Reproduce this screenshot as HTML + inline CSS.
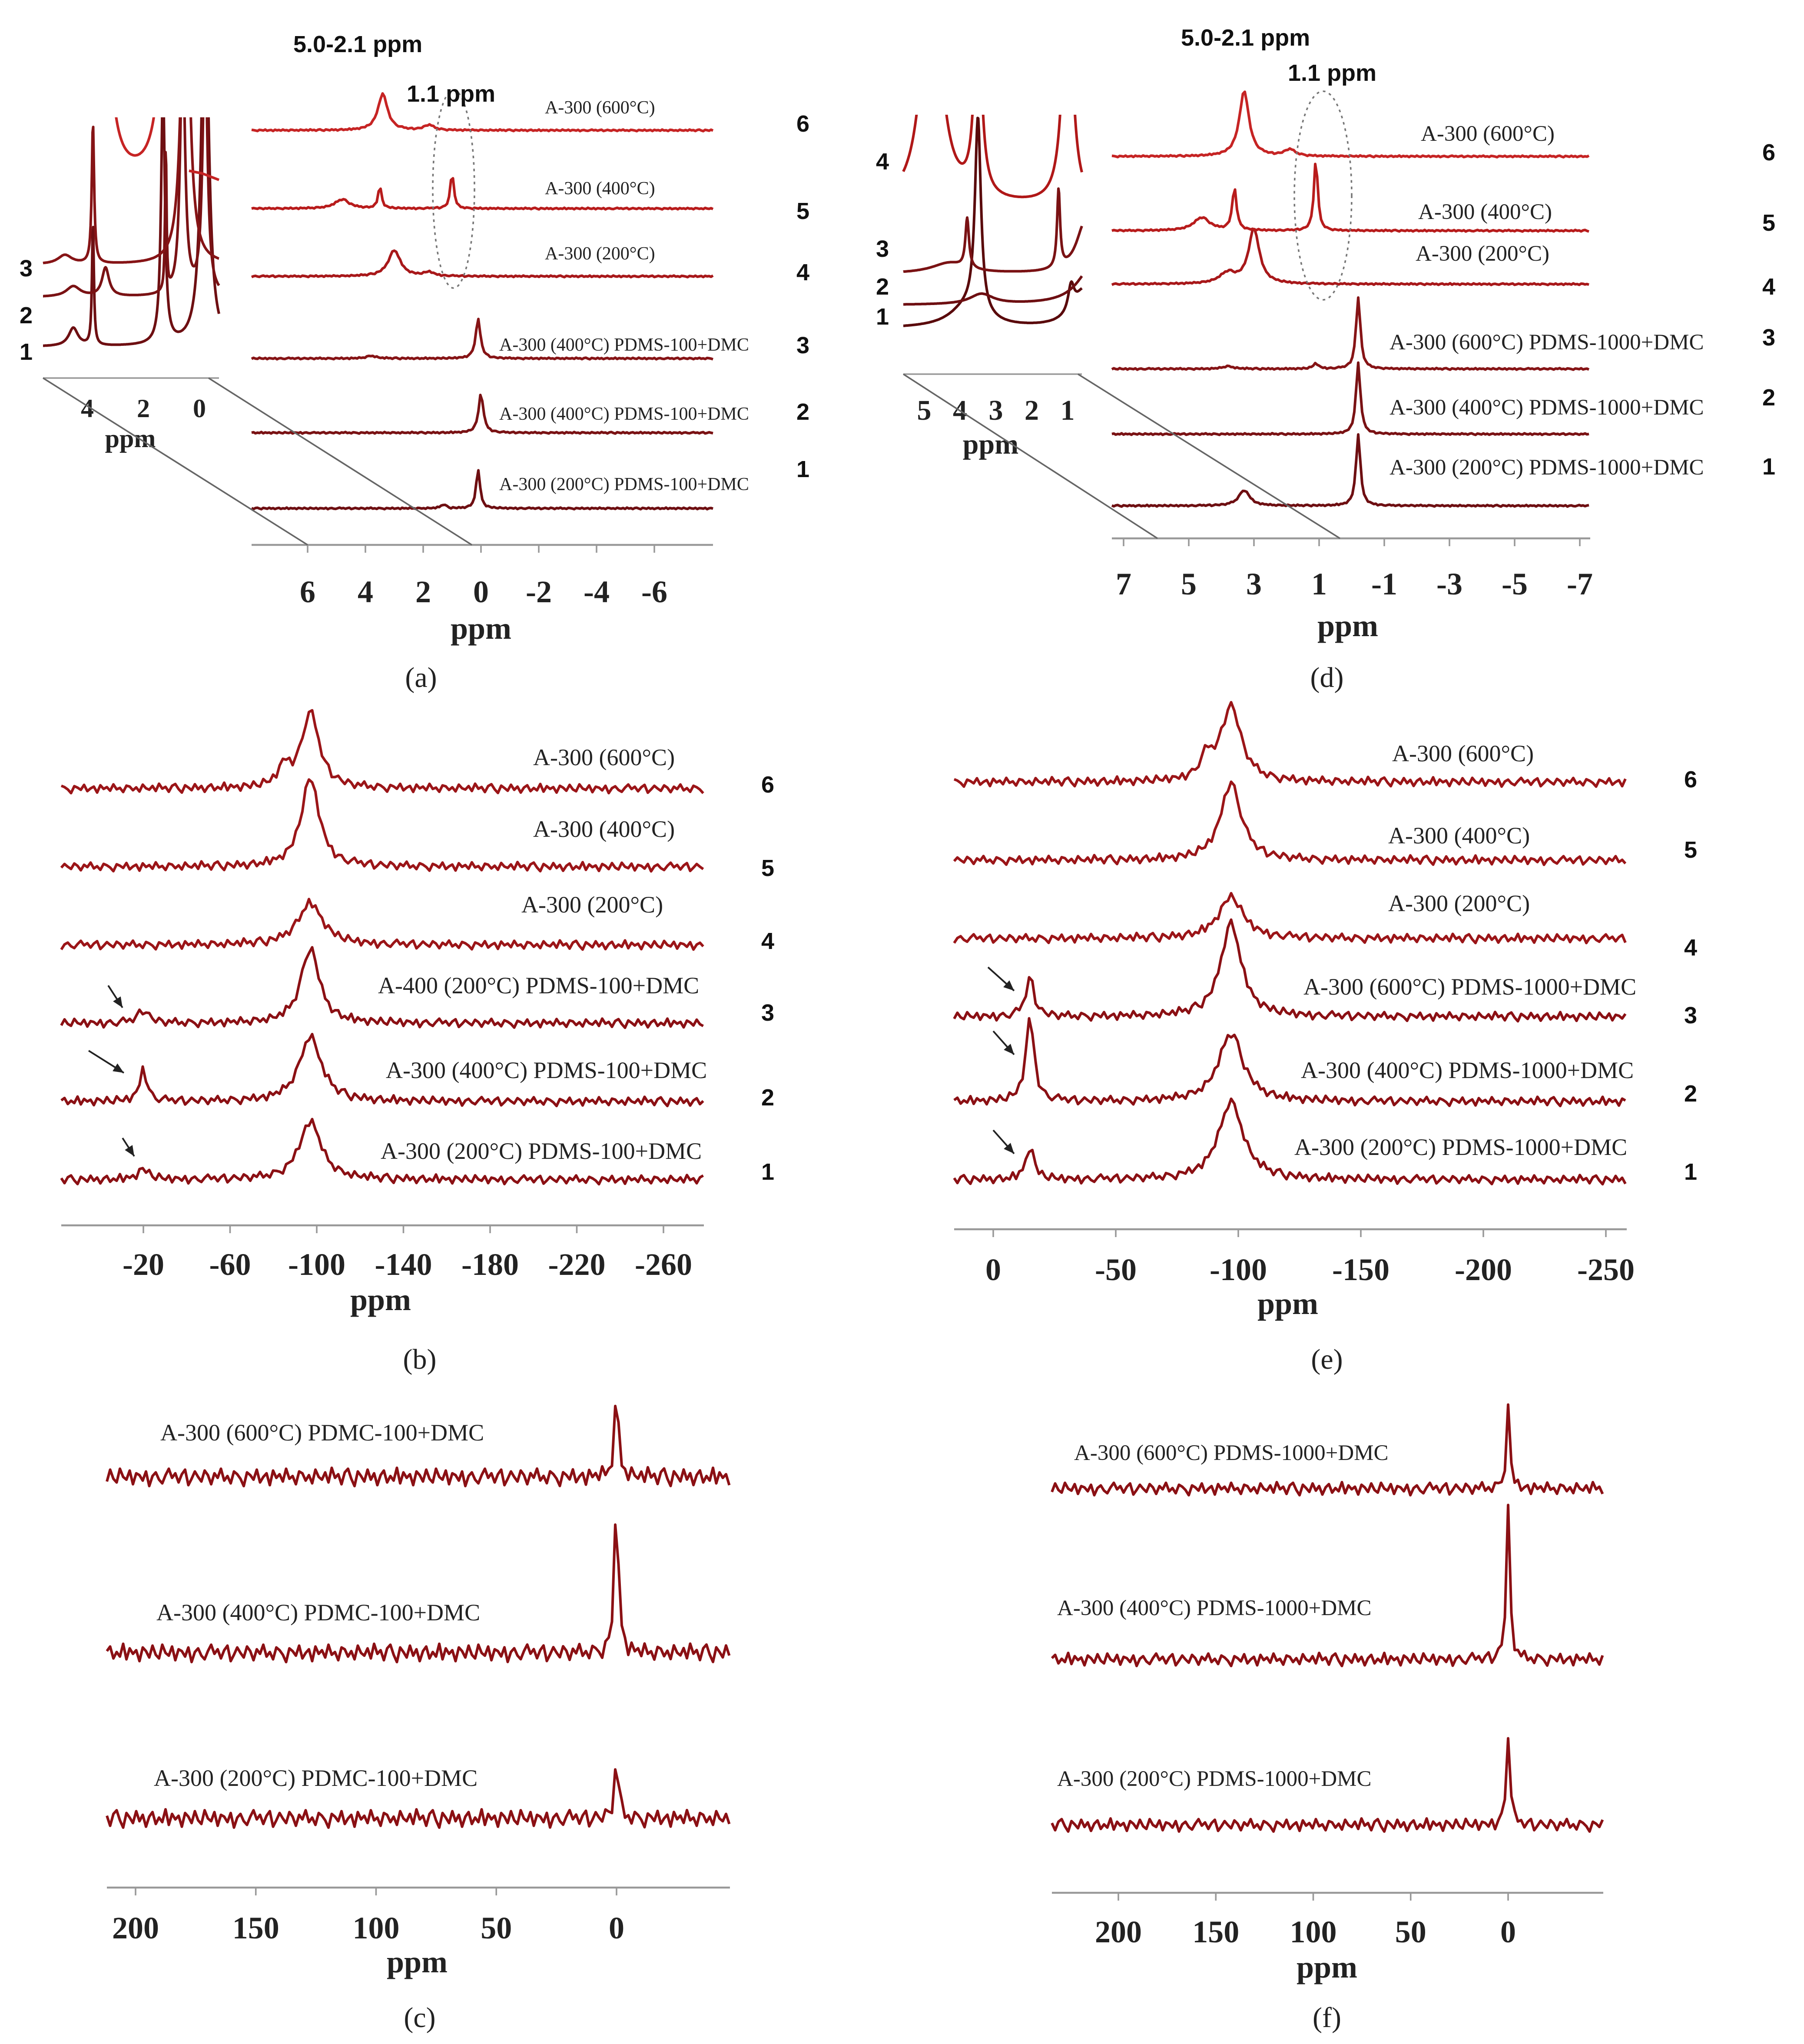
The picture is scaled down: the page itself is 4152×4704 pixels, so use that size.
<!DOCTYPE html>
<html><head><meta charset="utf-8">
<style>
html,body{margin:0;padding:0;background:#fff;}
svg{display:block;}
.lbl{font-family:"Liberation Serif",serif;fill:#222;}
.num{font-family:"Liberation Sans",sans-serif;font-weight:bold;fill:#111;}
</style></head>
<body>
<svg id="fig" width="4152" height="4704" viewBox="0 0 1384 1568" xmlns="http://www.w3.org/2000/svg">
<defs>
<clipPath id="clipA"><rect x="30" y="90" width="140" height="200"/></clipPath>
<clipPath id="clipD"><rect x="690" y="88" width="142" height="200"/></clipPath>
</defs>
<rect width="1384" height="1568" fill="#fff"/>
<g id="root"></g>
</svg>
<script>
// ---- data ----
const noise = [0.3,-0.8,0.5,0.9,-0.2,-1,0.6,0.1,-0.5,0.8,-0.3,0.4,-0.9,0.2,0.7,-0.6,0.1,-0.4,1,-0.7,0.5,-0.1,0.3,-0.9,0.6,0.2,-0.5,0.8,-0.2,-0.6,0.9,0.0,-0.3,0.7,-0.8,0.4,0.2,-0.4,0.6,-1,
 0.1,0.5,-0.3,-0.7,0.2,0.9,-0.1,0.4,-0.6,0.3,0.8,-0.9,-0.2,0.6,0.0,-0.5,0.7,0.2,-0.8,0.4,-0.1,0.9,-0.4,0.1,-0.7,0.6,0.3,-0.2,-1,0.5,0.2,-0.3,0.8,-0.6,0.0,0.4,-0.9,0.7,-0.1,0.3,
 -0.5,0.9,-0.2,0.1,-0.8,0.6,0.4,-0.4,0.2,-0.7,0.8,0.0,-0.3,0.5,-0.6,1,-0.1];
const aLabels = ["A-300 (200°C) PDMS-100+DMC","A-300 (400°C) PDMS-100+DMC","A-300 (400°C) PDMS-100+DMC","A-300 (200°C)","A-300 (400°C)","A-300 (600°C)"];
const aPeaks = [[[0.1,30,0.08],[1.3,3,0.1]],[[0,30,0.1]],[[0.1,30,0.1],[3.8,2,0.2]],[[3.0,20,0.25],[1.8,3,0.2]],[[4.8,7,0.3],[3.5,17,0.07],[1.0,28,0.07]],[[3.4,28,0.2],[1.8,4,0.2]]];
const aTicks = [6,4,2,0,-2,-4,-6];
const dLabels = ["A-300 (200°C) PDMS-1000+DMC","A-300 (400°C) PDMS-1000+DMC","A-300 (600°C) PDMS-1000+DMC","A-300 (200°C)","A-300 (400°C)","A-300 (600°C)"];
const dPeaks = [[[3.3,12,0.2],[-0.2,55,0.08]],[[-0.2,55,0.08]],[[-0.2,55,0.08],[1.1,4,0.1],[3.8,2,0.2]],[[3.0,42,0.2],[3.8,8,0.3]],[[4.6,10,0.3],[3.6,32,0.08],[1.1,55,0.07]],[[3.3,50,0.18],[1.9,5,0.2]]];
const dTicks = [7,5,3,1,-1,-3,-5,-7];
const bLabels = ["A-300 (200°C) PDMS-100+DMC","A-300 (400°C) PDMS-100+DMC","A-400 (200°C) PDMS-100+DMC","A-300 (200°C)","A-300 (400°C)","A-300 (600°C)"];
const bPeaks = [[[-97,45,6],[-20,8,3]],[[-97,50,6],[-20,25,2]],[[-97,58,5],[-20,10,3]],[[-97,32,7]],[[-97,68,5]],[[-97,58,5],[-85,15,3]]];
const bTicks = [-20,-60,-100,-140,-180,-220,-260];
const eLabels = ["A-300 (200°C) PDMS-1000+DMC","A-300 (400°C) PDMS-1000+DMC","A-300 (600°C) PDMS-1000+DMC","A-300 (200°C)","A-300 (400°C)","A-300 (600°C)"];
const ePeaks = [[[-97,60,6],[-15,25,2]],[[-97,52,6],[-15,65,2]],[[-97,72,5],[-15,30,2]],[[-97,32,6]],[[-97,60,5]],[[-97,58,5],[-87,15,3]]];
const eTicks = [0,-50,-100,-150,-200,-250];
const cLabels = ["A-300 (200°C) PDMC-100+DMC","A-300 (400°C) PDMC-100+DMC","A-300 (600°C) PDMC-100+DMC"];
const cPeaks = [[[0,45,1.0]],[[0,120,1.0]],[[0,65,1.0]]];
const cTicks = [200,150,100,50,0];
const fLabels = ["A-300 (200°C) PDMS-1000+DMC","A-300 (400°C) PDMS-1000+DMC","A-300 (600°C) PDMS-1000+DMC"];
const fPeaks = [[[0,70,1.1]],[[0,115,1.1]],[[0,62,1.1]]];
const fTicks = [200,150,100,50,0];
const aInset = [[[3.8,95,0.04],[4.5,14,0.2],[1.3,200,0.08],[-0.2,300,0.15]],[[3.35,22,0.15],[4.5,8,0.3],[1.2,115,0.03],[0.6,200,0.1],[-0.2,200,0.1]],[[3.8,108,0.05],[4.8,7,0.3],[0.5,300,0.15]]];
const aInsetBase = [266,228,203];
const dInset = [[[3.5,150,0.1],[3.8,15,0.6],[0.9,20,0.1],[0.5,30,0.4]],[[3.4,8,0.4],[0.3,30,0.5]],[[3.8,38,0.06],[1.25,60,0.05],[4.3,8,0.6],[0.5,40,0.3]],[[4.8,200,0.3],[3.5,150,0.12],[1.0,200,0.15]]];
const dInsetBase = [252,234,210,158];

const NS="http://www.w3.org/2000/svg";
const root=document.getElementById('root');
function mk(tag,attrs,parent){const e=document.createElementNS(NS,tag);for(const k in attrs)e.setAttribute(k,attrs[k]);(parent||root).appendChild(e);return e;}
function txt(x,y,s,cls,size,anchor,parent){const t=mk('text',{x:x,y:y,'class':cls,'font-size':size,'text-anchor':anchor||'start'},parent);t.textContent=s;return t;}
const colors=["#6e0f12","#7a1214","#861416","#a8181a","#b81c1c","#c62424"];

function spectrum(g,xf,x0,x1,base,peaks,namp,seed,color,step,clipTop){
  let d="";
  for(let px=x0,i=0;px<=x1;px+=step,i++){
    const p=xf.inv(px);
    let h=0;for(const pk of peaks){const u=(p-pk[0])/pk[2];h+=pk[1]/(1+u*u);}
    h+=namp*noise[(i+seed)%noise.length];
    let y=base-h; if(clipTop!==undefined&&y<clipTop)y=clipTop;
    d+=(i?"L":"M")+px.toFixed(1)+","+y.toFixed(1);
  }
  return mk('path',{d:d,fill:'none',stroke:color,'stroke-width':2,'stroke-linejoin':'round'},g);
}
function axis(g,xf,x0,x1,y,ticks,labY,labSize,ppmY,ppmX){
  mk('line',{x1:x0,y1:y,x2:x1,y2:y,stroke:'#999','stroke-width':1.5},g);
  for(const t of ticks){const x=xf(t);
    mk('line',{x1:x,y1:y,x2:x,y2:y+6,stroke:'#999','stroke-width':1.2},g);
    const tl=txt(x,labY,String(t),'lbl',labSize,'middle',g);
    tl.setAttribute('font-weight','bold');
    
    
  }
  const pl=txt(ppmX,ppmY,'ppm','lbl',labSize,'middle',g);pl.setAttribute('font-weight','bold');
  
  
}
function lin(a,b,pa,pb){const f=v=>a+(v-pa)*(b-a)/(pb-pa);f.inv=px=>pa+(px-a)*(pb-pa)/(b-a);return f;}
function panel(name,cap,capX){const g=mk('g',{});
  const c=txt(capX[0],capX[1],cap,'lbl',22,'middle',g);return g;}
function stack(g,xf,x0,x1,bases,peaks,labels,labPos,numX,numYs,namp,step,labSize,cols){
  for(let i=0;i<bases.length;i++){
    const p=spectrum(g,xf,x0,x1,bases[i],peaks[i],namp,i*13,cols[i],step);
    
    
    const t=txt(labPos[i][0],labPos[i][1],labels[i],'lbl',labSize,'start',g);
    
    
    if(numX!==null){const n=txt(numX,numYs[i],String(i+1),'num',18,'middle',g);
      
      }
  }
}
function arrow(g,a){mk('line',{x1:a[0],y1:a[1],x2:a[2],y2:a[3],stroke:'#222','stroke-width':1.3},g);
  const ang=Math.atan2(a[3]-a[1],a[2]-a[0]);const L=8,W=3.5;
  const bx=a[2]-L*Math.cos(ang),by=a[3]-L*Math.sin(ang);
  mk('path',{d:`M${a[2]},${a[3]} L${bx-W*Math.sin(ang)},${by+W*Math.cos(ang)} L${bx+W*Math.sin(ang)},${by-W*Math.cos(ang)} z`,fill:'#222'},g);}

// ---- panel a ----
{const g=panel('panel-a','(a)',[323,527]);
 const xf=lin(369,236,0,6);
 const bases=[390,332,275,212,160,100];
 stack(g,xf,193,547,bases,aPeaks,aLabels,[[383,376],[383,322],[383,269],[418,199],[418,149],[418,87]],616,[366,322,271,215,168,101],0.6,1.5,14,colors);
 axis(g,xf,193,547,418,aTicks,462,24,490,369);
 mk('ellipse',{cx:348,cy:145,rx:16,ry:76,fill:'none',stroke:'#777','stroke-width':1.2,'stroke-dasharray':'2,3'},g);
 let t=txt(225,40,'5.0-2.1 ppm','num',18,'start',g);
 t=txt(312,78,'1.1 ppm','num',18,'start',g);
 const ig=mk('g',{},g);
 const cg=mk('g',{'clip-path':'url(#clipA)'},ig);
 const xi=lin(153,110,0,2);
 for(let i=0;i<3;i++){const p=spectrum(cg,xi,33,168,aInsetBase[i],aInset[i],0,0,colors[i],0.5);}
 const r=spectrum(cg,xi,84,124,140,[[3.5,250,0.25],[1.1,250,0.25]],0,0,colors[5],0.5);
 mk('path',{d:'M145,131 L155,133 L168,138',fill:'none',stroke:colors[5],'stroke-width':2},ig);
 mk('line',{x1:33,y1:290,x2:168,y2:290,stroke:'#999','stroke-width':1.2},ig);
 for(const v of [4,2,0]){const x=xi(v);txt(x,320,String(v),'lbl',20,'middle',ig).setAttribute('font-weight','bold');}
 txt(100,343,'ppm','lbl',20,'middle',ig).setAttribute('font-weight','bold');
 [[1,276],[2,248],[3,212]].forEach(a=>txt(20,a[1],String(a[0]),'num',18,'middle',ig));
 mk('line',{x1:33,y1:290,x2:236,y2:418,stroke:'#666','stroke-width':1.2},g);
 mk('line',{x1:160,y1:290,x2:362,y2:418,stroke:'#666','stroke-width':1.2},g);
}
// ---- panel d ----
{const g=panel('panel-d','(d)',[1018,527]);
 const xf=lin(1037,1012,0,1);
 const bases=[388,333,283,218,177,120];
 stack(g,xf,853,1220,bases,dPeaks,dLabels,[[1066,364],[1066,318],[1066,268],[1086,200],[1088,168],[1090,108]],1357,[364,311,265,226,177,123],0.6,1.5,17,colors);
 axis(g,xf,853,1220,413,dTicks,456,24,488,1034);
 mk('ellipse',{cx:1015,cy:150,rx:22,ry:80,fill:'none',stroke:'#777','stroke-width':1.2,'stroke-dasharray':'2,3'},g);
 let t=txt(906,35,'5.0-2.1 ppm','num',18,'start',g);
 t=txt(988,62,'1.1 ppm','num',18,'start',g);
 const ig=mk('g',{},g);
 const cg=mk('g',{'clip-path':'url(#clipD)'},ig);
 const xi=lin(819,709,1,5);
 const icol=["#5a0a0c","#6e0f12","#7a1214","#b01818"];
 for(let i=0;i<4;i++){const p=spectrum(cg,xi,693,830,dInsetBase[i],dInset[i],0,0,icol[i],0.5);}
 mk('line',{x1:693,y1:287,x2:830,y2:287,stroke:'#999','stroke-width':1.2},ig);
 for(const v of [5,4,3,2,1]){txt(xi(v),322,String(v),'lbl',22,'middle',ig).setAttribute('font-weight','bold');}
 txt(760,348,'ppm','lbl',22,'middle',ig).setAttribute('font-weight','bold');
 [[1,249],[2,226],[3,197],[4,130]].forEach(a=>txt(677,a[1],String(a[0]),'num',18,'middle',ig));
 mk('line',{x1:693,y1:287,x2:888,y2:413,stroke:'#666','stroke-width':1.2},g);
 mk('line',{x1:827,y1:287,x2:1028,y2:413,stroke:'#666','stroke-width':1.2},g);
}
// ---- panel b ----
{const g=panel('panel-b','(b)',[322,1050]);
 const xf=lin(110,243,-20,-100);
 const bases=[905,845,785,725,665,605];
 stack(g,xf,47,540,bases,bPeaks,bLabels,[[292,889],[296,827],[290,762],[400,700],[409,642],[409,587]],589,[905,848,783,728,672,608],3.5,2.5,18,["#8b1014","#8b1014","#8b1014","#9b1518","#9b1518","#9b1518"]);
 axis(g,xf,47,540,940,bTicks,978,24,1005,292);
 [[83,756,94,773],[68,806,95,823],[94,873,103,887]].forEach(a=>arrow(g,a));
}
// ---- panel e ----
{const g=panel('panel-e','(e)',[1018,1050]);
 const xf=lin(762,1232,0,-250);
 const bases=[905,845,780,720,660,600];
 stack(g,xf,732,1248,bases,ePeaks,eLabels,[[993,886],[998,827],[1000,763],[1065,699],[1065,647],[1068,584]],1297,[905,845,785,733,658,604],3.5,2.5,18,["#8b1014","#8b1014","#8b1014","#9b1518","#9b1518","#9b1518"]);
 axis(g,xf,732,1248,943,eTicks,982,24,1008,988);
 [[762,867,778,885],[762,791,778,809],[758,742,778,760]].forEach(a=>arrow(g,a));
}
// ---- panel c ----
{const g=panel('panel-c','(c)',[322,1555]);
 const xf=lin(104,473,200,0);
 stack(g,xf,82,560,[1395,1268,1133],cPeaks,cLabels,[[118,1370],[120,1243],[123,1105]],null,[],7,2.5,18,["#8b1014","#8b1014","#8b1014"]);
 axis(g,xf,82,560,1448,cTicks,1487,24,1513,320);
}
// ---- panel f ----
{const g=panel('panel-f','(f)',[1018,1555]);
 const xf=lin(858,1157,200,0);
 stack(g,xf,807,1230,[1400,1273,1142],fPeaks,fLabels,[[811,1370],[811,1239],[824,1120]],null,[],5,2.5,17,["#8b1014","#8b1014","#8b1014"]);
 axis(g,xf,807,1230,1452,fTicks,1490,24,1517,1018);
}
</script>
</body></html>
